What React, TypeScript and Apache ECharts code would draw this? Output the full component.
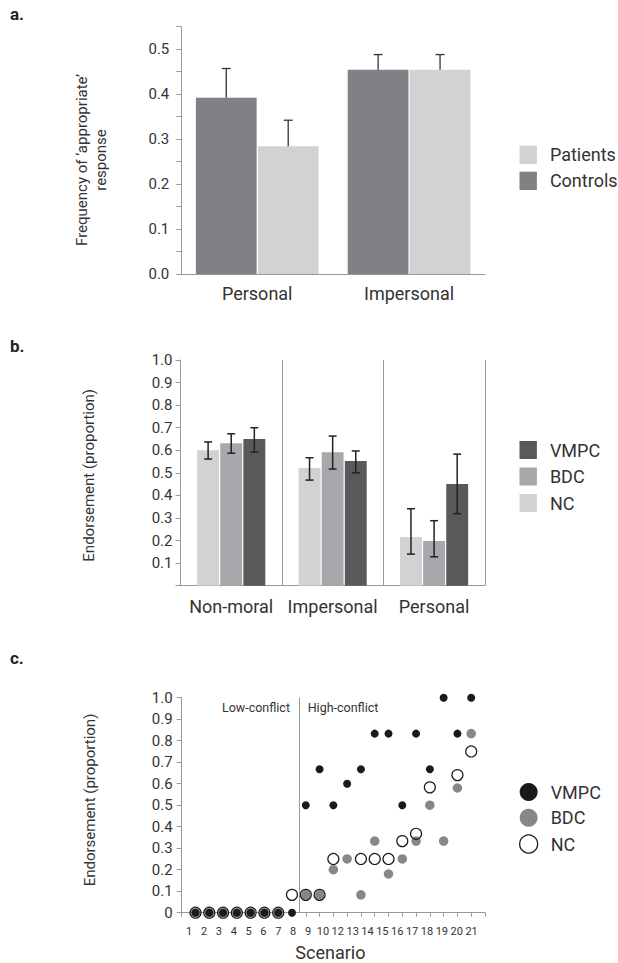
import React, { useEffect, useRef } from 'react';
import * as echarts from 'echarts';

const FONT = 'Roboto';
const TEXT = '#333';
const AXIS = '#999';

// ---- Panel a ----
const aCategories = ['Personal', 'Impersonal'];
const aControls = [0.392, 0.454];
const aControlsErrTop = [0.457, 0.488];
const aPatients = [0.284, 0.454];
const aPatientsErrTop = [0.342, 0.488];

// ---- Panel b ----
const bCategories = ['Non-moral', 'Impersonal', 'Personal'];
const bNC = [0.6, 0.521, 0.216];
const bNCLow = [0.561, 0.468, 0.14];
const bNCHigh = [0.637, 0.567, 0.341];
const bBDC = [0.631, 0.591, 0.198];
const bBDCLow = [0.587, 0.517, 0.128];
const bBDCHigh = [0.673, 0.663, 0.288];
const bVMPC = [0.65, 0.552, 0.451];
const bVMPCLow = [0.592, 0.5, 0.319];
const bVMPCHigh = [0.7, 0.597, 0.583];

// ---- Panel c ----
const cScenarios = [1, 2, 3, 4, 5, 6, 7, 8, 9, 10, 11, 12, 13, 14, 15, 16, 17, 18, 19, 20, 21];
const cScenarioLabels = ['1', '2', '3', '4', '5', '6', '7', '8', '9', '10', '12', '13', '14', '15', '16', '17', '18', '19', '20', '21'];
const cVMPC = [0, 0, 0, 0, 0, 0, 0, 0, 0.5, 0.667, 0.5, 0.6, 0.667, 0.833, 0.833, 0.5, 0.833, 0.667, 1.0, 0.833, 1.0];
const cBDC = [0, 0, 0, 0, 0, 0, 0, null, 0.083, 0.083, 0.2, 0.25, 0.083, 0.333, 0.18, 0.25, 0.333, 0.5, 0.333, 0.58, 0.833];
const cNC = [0, 0, 0, 0, 0, 0, 0, 0.083, 0.083, 0.083, 0.25, null, 0.25, 0.25, 0.25, 0.333, 0.367, 0.583, null, 0.64, 0.75];
const cDivider = 8.5;

const C_VMPC = '#1a1a1a';
const C_BDC = '#878787';
const A_CONTROLS = '#808184';
const A_PATIENTS = '#d1d2d4';
const B_NC = '#d1d2d4';
const B_BDC = '#a7a8ab';
const B_VMPC = '#58595b';

const A_BAR_FRAC = 0.4;
const A_GAP = 0.02;
const B_BAR_FRAC = 0.216;
const B_GAP = 0.055;

function errorBars(
  xAxisIndex: number,
  yAxisIndex: number,
  lows: number[],
  highs: number[],
  offsetFrac: number,
  capHalf: number,
  lineWidth: number,
  color: string,
  lowerCap: boolean
) {
  return {
    type: 'custom',
    xAxisIndex,
    yAxisIndex,
    z: 5,
    silent: true,
    encode: { x: 0, y: [1, 2] },
    data: lows.map((l, i) => [i, l, highs[i]]),
    renderItem: (params: any, api: any) => {
      const idx = api.value(0);
      const lo = api.coord([idx, api.value(1)]);
      const hi = api.coord([idx, api.value(2)]);
      const band = api.size([1, 0])[0];
      const x = lo[0] + band * offsetFrac;
      const style = { stroke: color, lineWidth, fill: 'none' };
      const children: any[] = [
        { type: 'line', shape: { x1: x, y1: lo[1], x2: x, y2: hi[1] }, style },
        { type: 'line', shape: { x1: x - capHalf, y1: hi[1], x2: x + capHalf, y2: hi[1] }, style },
      ];
      if (lowerCap) {
        children.push({ type: 'line', shape: { x1: x - capHalf, y1: lo[1], x2: x + capHalf, y2: lo[1] }, style });
      }
      return { type: 'group', children };
    },
  };
}

const tickFmt1 = (v: number) => (Math.abs(v * 10 - Math.round(v * 10)) < 1e-6 ? v.toFixed(1) : '');

export default function App() {
  const ref = useRef<HTMLDivElement>(null);
  useEffect(() => {
    if (!ref.current) return;
    const chart = echarts.init(ref.current, undefined, { renderer: 'svg' });
    const aOff = (A_BAR_FRAC * (1 + A_GAP)) / 2;
    const bOff = B_BAR_FRAC * (1 + B_GAP);

    const yLabel = { fontFamily: FONT, fontSize: 15, color: TEXT };
    const catLabel = { fontFamily: FONT, fontSize: 18, color: TEXT, interval: 0, hideOverlap: false };
    const axisLine = { show: true, lineStyle: { color: AXIS, width: 1 } };

    const option: any = {
      animation: false,
      backgroundColor: '#fff',
      textStyle: { fontFamily: FONT },
      grid: [
        { left: 181.3, top: 26.7, width: 303.7, height: 247.3, outerBoundsMode: 'none' },
        { left: 180.5, top: 360, width: 304.3, height: 225.7, outerBoundsMode: 'none' },
        { left: 181.7, top: 697.7, width: 303.3, height: 215, outerBoundsMode: 'none' },
        { left: 181.7, top: 697.7, width: 297.3, height: 215, outerBoundsMode: 'none' },
      ],
      xAxis: [
        {
          type: 'category', gridIndex: 0, data: aCategories,
          axisLine, axisTick: { show: false },
          axisLabel: { ...catLabel, margin: 10 },
        },
        {
          type: 'category', gridIndex: 1, data: bCategories,
          axisLine, axisTick: { show: false },
          axisLabel: { ...catLabel, margin: 12 },
          splitLine: { show: true, interval: 0, lineStyle: { color: AXIS, width: 1 } },
        },
        {
          type: 'value', gridIndex: 2, min: 0, max: 22, interval: 1,
          axisLine, axisTick: { show: true, length: 4, lineStyle: { color: AXIS } },
          axisLabel: { show: false }, splitLine: { show: false },
        },
        {
          type: 'category', gridIndex: 3, data: cScenarioLabels,
          axisLine: { show: false }, axisTick: { show: false },
          axisLabel: { fontFamily: FONT, fontSize: 11, color: TEXT, margin: 13, interval: 0, hideOverlap: false },
          name: 'Scenario', nameLocation: 'middle', nameGap: 30,
          nameTextStyle: { fontFamily: FONT, fontSize: 18, color: TEXT, lineHeight: 20 },
        },
      ],
      yAxis: [
        {
          type: 'value', gridIndex: 0, min: 0, max: 0.55, interval: 0.05,
          axisLine, axisTick: { show: true, length: 5, lineStyle: { color: AXIS } },
          axisLabel: { ...yLabel, margin: 12, formatter: tickFmt1 },
          splitLine: { show: false },
        },
        {
          type: 'value', gridIndex: 1, min: 0, max: 1, interval: 0.1,
          axisLine, axisTick: { show: true, length: 5, lineStyle: { color: AXIS } },
          axisLabel: { ...yLabel, margin: 8, formatter: (v: number) => (v === 0 ? '' : v.toFixed(1)) },
          splitLine: { show: false },
        },
        {
          type: 'value', gridIndex: 2, min: 0, max: 1, interval: 0.1,
          axisLine, axisTick: { show: true, length: 5, lineStyle: { color: AXIS } },
          axisLabel: { ...yLabel, margin: 9, formatter: (v: number) => (v === 0 ? '0' : v.toFixed(1)) },
          splitLine: { show: false },
        },
        { type: 'value', gridIndex: 3, min: 0, max: 1, show: false },
      ],
      legend: [
        {
          orient: 'vertical', left: 519.5, top: 145.7, padding: 0,
          itemWidth: 17.4, itemHeight: 18.3, itemGap: 7.7, icon: 'rect',
          textStyle: { fontFamily: FONT, fontSize: 18, color: TEXT, padding: [0, 0, 0, 8] },
          data: [
            { name: 'Patients', itemStyle: { color: A_PATIENTS } },
            { name: 'Controls', itemStyle: { color: A_CONTROLS } },
          ],
          selectedMode: false,
        },
        {
          orient: 'vertical', left: 519.5, top: 441, padding: 0,
          itemWidth: 17.4, itemHeight: 18, itemGap: 8.5, icon: 'rect',
          textStyle: { fontFamily: FONT, fontSize: 18, color: TEXT, padding: [0, 0, 0, 8] },
          data: [
            { name: 'VMPC', icon: 'rect', itemStyle: { color: B_VMPC, borderWidth: 0 } },
            { name: 'BDC', icon: 'rect', itemStyle: { color: B_BDC, borderWidth: 0 } },
            { name: 'NC', icon: 'rect', itemStyle: { color: B_NC, borderWidth: 0 } },
          ],
          selectedMode: false,
        },
        {
          orient: 'vertical', left: 519, top: 783, padding: 0,
          itemWidth: 18, itemHeight: 18, itemGap: 7.7,
          textStyle: { fontFamily: FONT, fontSize: 18, color: TEXT, padding: [0, 0, 0, 8] },
          data: [
            { name: 'VMPC', icon: 'circle', itemStyle: { color: C_VMPC, borderWidth: 0 } },
            { name: 'BDC', icon: 'circle', itemStyle: { color: C_BDC, borderWidth: 0 } },
            { name: 'NC', icon: 'circle', itemStyle: { color: '#fff', borderColor: C_VMPC, borderWidth: 1.3 } },
          ],
          selectedMode: false,
        },
      ],
      graphic: [
        { type: 'text', x: 10, y: 22, style: { text: 'a.', font: `bold 17px ${FONT}`, fill: '#222', align: 'left', verticalAlign: 'bottom' } },
        { type: 'text', x: 10, y: 354, style: { text: 'b.', font: `bold 17px ${FONT}`, fill: '#222', align: 'left', verticalAlign: 'bottom' } },
        { type: 'text', x: 10, y: 666, style: { text: 'c.', font: `bold 17px ${FONT}`, fill: '#222', align: 'left', verticalAlign: 'bottom' } },
        {
          type: 'text', x: 91, y: 160, rotation: Math.PI / 2,
          style: { text: 'Frequency of \u2018appropriate\u2019\nresponse', font: `15px ${FONT}`, lineHeight: 19, fill: TEXT, align: 'center', verticalAlign: 'middle' },
        },
        {
          type: 'text', x: 88.7, y: 475.3, rotation: Math.PI / 2,
          style: { text: 'Endorsement (proportion)', font: `15px ${FONT}`, fill: TEXT, align: 'center', verticalAlign: 'middle' },
        },
        {
          type: 'text', x: 90, y: 800, rotation: Math.PI / 2,
          style: { text: 'Endorsement (proportion)', font: `15px ${FONT}`, fill: TEXT, align: 'center', verticalAlign: 'middle' },
        },
        { type: 'text', x: 290, y: 707.3, style: { text: 'Low-conflict', font: `12.5px ${FONT}`, fill: TEXT, align: 'right', verticalAlign: 'middle' } },
        { type: 'text', x: 307.7, y: 707.3, style: { text: 'High-conflict', font: `12.5px ${FONT}`, fill: TEXT, align: 'left', verticalAlign: 'middle' } },
      ],
      series: [
        // panel a
        {
          name: 'Controls', type: 'bar', xAxisIndex: 0, yAxisIndex: 0, data: aControls,
          barWidth: `${A_BAR_FRAC * 100}%`, barGap: `${A_GAP * 100}%`, itemStyle: { color: A_CONTROLS },
        },
        {
          name: 'Patients', type: 'bar', xAxisIndex: 0, yAxisIndex: 0, data: aPatients,
          barWidth: `${A_BAR_FRAC * 100}%`, barGap: `${A_GAP * 100}%`, itemStyle: { color: A_PATIENTS },
        },
        errorBars(0, 0, aControls, aControlsErrTop, -aOff, 4.5, 1.3, '#333', false),
        errorBars(0, 0, aPatients, aPatientsErrTop, aOff, 4.5, 1.3, '#333', false),
        // panel b
        {
          name: 'NC', type: 'bar', xAxisIndex: 1, yAxisIndex: 1, data: bNC,
          barWidth: `${B_BAR_FRAC * 100}%`, barGap: `${B_GAP * 100}%`, itemStyle: { color: B_NC },
        },
        {
          name: 'BDC', type: 'bar', xAxisIndex: 1, yAxisIndex: 1, data: bBDC,
          barWidth: `${B_BAR_FRAC * 100}%`, barGap: `${B_GAP * 100}%`, itemStyle: { color: B_BDC },
        },
        {
          name: 'VMPC', type: 'bar', xAxisIndex: 1, yAxisIndex: 1, data: bVMPC,
          barWidth: `${B_BAR_FRAC * 100}%`, barGap: `${B_GAP * 100}%`, itemStyle: { color: B_VMPC },
        },
        errorBars(1, 1, bNCLow, bNCHigh, -bOff, 4, 1.5, '#222', true),
        errorBars(1, 1, bBDCLow, bBDCHigh, 0, 4, 1.5, '#222', true),
        errorBars(1, 1, bVMPCLow, bVMPCHigh, bOff, 4, 1.5, '#222', true),
        // panel c
        {
          name: 'BDC', type: 'scatter', xAxisIndex: 2, yAxisIndex: 2, symbol: 'circle', symbolSize: 9.5,
          itemStyle: { color: C_BDC, opacity: 1 },
          data: cScenarios.map((s, i) => [s, cBDC[i]]).filter((d) => d[1] !== null),
        },
        {
          name: 'VMPC', type: 'scatter', xAxisIndex: 2, yAxisIndex: 2, symbol: 'circle', symbolSize: 8,
          itemStyle: { color: C_VMPC, opacity: 1 },
          data: cScenarios.map((s, i) => [s, cVMPC[i]]),
          markLine: {
            silent: true, symbol: 'none', label: { show: false },
            lineStyle: { color: AXIS, type: 'solid', width: 1 },
            data: [{ xAxis: cDivider }],
          },
        },
        {
          name: 'NC', type: 'scatter', xAxisIndex: 2, yAxisIndex: 2, symbol: 'circle', symbolSize: 11,
          itemStyle: { color: 'rgba(255,255,255,0)', borderColor: C_VMPC, borderWidth: 1.2, opacity: 1 },
          data: cScenarios.map((s, i) => [s, cNC[i]]).filter((d) => d[1] !== null),
        },
      ],
    };
    chart.setOption(option);
    return () => chart.dispose();
  }, []);
  return (
    <div
      ref={ref}
      style={{ position: 'fixed', left: 0, top: 0, width: 618, height: 963, background: '#fff' }}
    />
  );
}
